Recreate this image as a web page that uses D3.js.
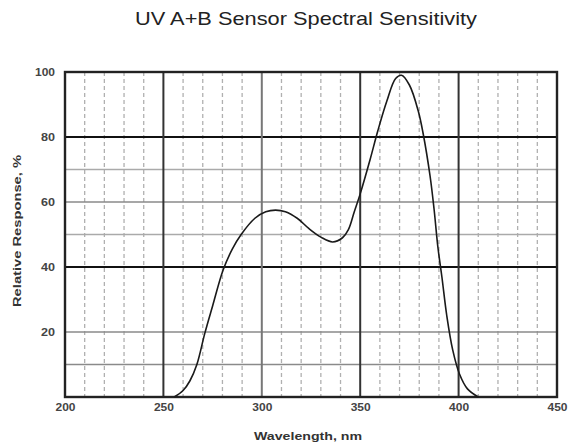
<!DOCTYPE html>
<html><head><meta charset="utf-8">
<script src="https://cdn.jsdelivr.net/npm/d3@7"></script>
<style>html,body{margin:0;padding:0;background:#fff;}svg{display:block;}</style>
</head><body>
<svg id="c" width="569" height="442"></svg>
<script>
const title = "UV A+B Sensor Spectral Sensitivity";
const xTitle = "Wavelength, nm";
const yTitle = "Relative Response, %";
const xTicks = [200, 250, 300, 350, 400, 450];
const yTicks = [20, 40, 60, 80, 100];
const xMinor = [210,220,230,240,260,270,280,290,310,320,330,340,360,370,380,390,410,420,430,440];
const hGrid = [10, 20, 40, 50, 60, 70, 80];
const hGridDark = [40, 80];
const vGridDark = [250, 350, 400];
const vGridMid = [300];
const wavelength = [255.5, 260, 263.5, 267, 271, 275, 280.3, 285, 289.5, 296.5, 302, 307, 312, 318, 324, 330, 336, 341, 344, 347, 350, 355, 359, 363.5, 368, 371, 375, 379.5, 382, 385.5, 387.5, 389.5, 391.5, 394, 397, 400.5, 404.5, 410];
const response = [0, 2, 5, 10, 19.5, 28, 39, 45.5, 50, 55, 57, 57.5, 57, 55, 51.8, 49.2, 47.7, 49, 51.5, 57, 62.5, 73, 82, 91, 98, 99, 96, 88, 81, 68, 58, 46, 37, 25, 14.5, 7, 2.5, 0];

const svg = d3.select("#c");
const m = {l: 65, r: 557, t: 72, b: 397};
const x = d3.scaleLinear().domain([200, 450]).range([m.l, m.r]);
const y = d3.scaleLinear().domain([0, 100]).range([m.b, m.t]);

// minor vertical dashed
svg.append("g").selectAll("line").data(xMinor).join("line")
  .attr("x1", d => x(d)).attr("x2", d => x(d)).attr("y1", m.t).attr("y2", m.b)
  .attr("stroke", "#b0b0b0").attr("stroke-width", 1.3).attr("stroke-dasharray", "4,3");
// horizontal grid
svg.append("g").selectAll("line").data(hGrid).join("line")
  .attr("x1", m.l).attr("x2", m.r).attr("y1", d => y(d)).attr("y2", d => y(d))
  .attr("stroke", d => hGridDark.includes(d) ? "#111" : ([10,20,60].includes(d) ? "#8a8a8a" : "#aaa"))
  .attr("stroke-width", d => hGridDark.includes(d) ? 2.2 : 1.6);
// major vertical
svg.append("g").selectAll("line").data(vGridDark.concat(vGridMid)).join("line")
  .attr("x1", d => x(d)).attr("x2", d => x(d)).attr("y1", m.t).attr("y2", m.b)
  .attr("stroke", d => vGridMid.includes(d) ? "#777" : "#333").attr("stroke-width", 2);
// border
svg.append("rect").attr("x", m.l).attr("y", m.t).attr("width", m.r - m.l).attr("height", m.b - m.t)
  .attr("fill", "none").attr("stroke", "#222").attr("stroke-width", 2.4);
// curve
const line = d3.line()
  .x((d, i) => x(wavelength[i]))
  .y(d => y(d))
  .curve(d3.curveCatmullRom.alpha(0.5));
svg.append("path").datum(response).attr("d", line)
  .attr("fill", "none").attr("stroke", "#1a1a1a").attr("stroke-width", 1.6);

// axes labels
const font = "Liberation Sans, Arial, sans-serif";
const xAxis = svg.append("g").attr("transform", `translate(0,${m.b + 6})`)
  .call(d3.axisBottom(x).tickValues(xTicks).tickSize(0).tickPadding(0));
xAxis.select(".domain").remove();
xAxis.selectAll("text").attr("font-family", font).attr("font-size", 11).attr("font-weight", "bold").attr("fill", "#444")
  .attr("textLength", 20).attr("lengthAdjust", "spacingAndGlyphs");
const yAxis = svg.append("g").attr("transform", `translate(${m.l - 10},0)`)
  .call(d3.axisLeft(y).tickValues(yTicks).tickSize(0).tickPadding(0));
yAxis.select(".domain").remove();
yAxis.selectAll("text").attr("font-family", font).attr("font-size", 11).attr("font-weight", "bold").attr("fill", "#444")
  .attr("textLength", d => d === 100 ? 20 : 14).attr("lengthAdjust", "spacingAndGlyphs");

svg.append("text").attr("x", 308).attr("y", 440).attr("text-anchor", "middle")
  .attr("font-family", font).attr("font-size", 11).attr("font-weight", "bold").attr("fill", "#333")
  .attr("textLength", 108).attr("lengthAdjust", "spacingAndGlyphs").text(xTitle);
svg.append("text").attr("transform", "translate(21,231) rotate(-90)").attr("text-anchor", "middle")
  .attr("font-family", font).attr("font-size", 11).attr("font-weight", "bold").attr("fill", "#333")
  .attr("textLength", 152).attr("lengthAdjust", "spacingAndGlyphs").text(yTitle);
svg.append("text").attr("x", 306).attr("y", 25).attr("text-anchor", "middle")
  .attr("font-family", font).attr("font-size", 19).attr("fill", "#222")
  .attr("textLength", 342).attr("lengthAdjust", "spacingAndGlyphs").text(title);
</script>
</body></html>
